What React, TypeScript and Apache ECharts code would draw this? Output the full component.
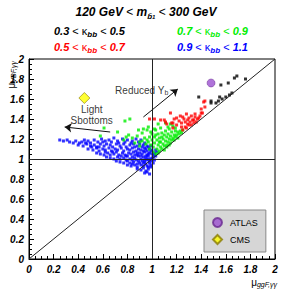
import React, { useEffect, useRef } from "react";
import * as echarts from "echarts";

const F = "Liberation Sans";

const xTicks = { min: 0, max: 2, interval: 0.2 };
const yTicks = { min: 0, max: 2, interval: 0.2 };

// kappa_bb 0.9-1.1 (blue)
const bluePts: number[][] = [
  [0.25,1.19],[0.28,1.18],[0.31,1.19],[0.33,1.17],[0.36,1.16],[0.38,1.18],[0.41,1.16],[0.43,1.17],[0.45,1.19],[0.48,1.18],[0.50,1.16],[0.53,1.19],[0.56,1.17],[0.59,1.20],[0.62,1.18],[0.65,1.19],[0.69,1.21],[0.72,1.18],[0.76,1.20],[0.80,1.19],[0.84,1.18],[0.87,1.20],[0.91,1.19],
  [0.40,1.14],[0.44,1.13],[0.47,1.15],[0.50,1.13],[0.53,1.14],[0.55,1.12],[0.58,1.15],[0.61,1.13],[0.63,1.15],[0.66,1.14],[0.68,1.12],[0.71,1.15],[0.74,1.13],[0.77,1.15],[0.79,1.12],[0.82,1.14],[0.85,1.15],[0.88,1.13],[0.90,1.15],[0.93,1.14],[0.96,1.13],
  [0.48,1.10],[0.52,1.09],[0.55,1.11],[0.57,1.08],[0.60,1.10],[0.62,1.09],[0.65,1.11],[0.67,1.08],[0.70,1.10],[0.72,1.09],[0.75,1.11],[0.77,1.08],[0.80,1.10],[0.82,1.09],[0.84,1.11],[0.87,1.08],[0.89,1.10],[0.91,1.09],[0.94,1.11],[0.96,1.08],[0.98,1.10],[1.00,1.09],
  [0.55,1.06],[0.58,1.05],[0.61,1.04],[0.64,1.06],[0.66,1.04],[0.69,1.05],[0.71,1.07],[0.73,1.04],[0.76,1.06],[0.78,1.04],[0.81,1.06],[0.83,1.05],[0.85,1.07],[0.88,1.04],[0.90,1.06],[0.92,1.05],[0.94,1.07],[0.96,1.04],[0.98,1.06],[1.00,1.05],[1.02,1.06],[1.04,1.07],
  [0.63,1.02],[0.66,1.01],[0.69,1.00],[0.72,1.02],[0.74,1.00],[0.77,1.01],[0.79,1.03],[0.82,1.00],[0.84,1.02],[0.86,1.01],[0.89,1.03],[0.91,1.00],[0.93,1.02],[0.95,1.01],[0.97,1.03],[0.99,1.00],[1.01,1.02],[1.03,1.03],
  [0.71,0.98],[0.74,0.97],[0.77,0.96],[0.80,0.98],[0.82,0.96],[0.85,0.97],[0.87,0.99],[0.90,0.96],[0.92,0.98],[0.94,0.97],[0.96,0.99],[0.98,0.96],[1.00,0.98],[1.02,0.99],
  [0.80,0.94],[0.83,0.93],[0.86,0.94],[0.88,0.92],[0.91,0.94],[0.93,0.93],[0.95,0.95],[0.97,0.92],[0.99,0.94],[1.01,0.96],
  [0.88,0.90],[0.91,0.89],[0.93,0.91],[0.95,0.88],[0.97,0.90],[0.99,0.92],[0.94,0.86],[0.96,0.87],[0.98,0.85],
  [0.86,1.12],[0.92,1.12],[0.95,1.10],[0.97,1.12],[0.99,1.08],[0.93,1.08],[0.88,1.06],[0.95,1.03],[0.97,1.05],[0.91,1.03],[0.86,1.04],[0.80,1.03],[0.75,1.03],[0.68,1.07],[0.62,1.07],[0.57,1.12],[0.51,1.12],[0.46,1.16],[0.89,0.98],[0.84,0.99],[0.79,0.99],[0.96,0.93],[1.00,1.01],[1.02,1.04],[1.03,1.09],[0.99,1.13],[0.94,1.16],[0.89,1.17],[0.83,1.16],[0.78,1.17],[0.73,1.16],[0.67,1.17],[0.60,1.17],[0.98,0.98],[0.93,0.96],[0.88,0.95],[0.84,0.95],[0.97,1.00],[0.94,0.99]
];

// kappa_bb 0.7-0.9 (green)
const greenPts: number[][] = [
  [0.58,1.23],[0.61,1.31],[0.72,1.27],[0.78,1.38],[0.82,1.40],[0.77,1.19],[0.79,1.22],[0.81,1.24],[0.89,1.29],[0.92,1.26],[0.93,1.30],[0.86,1.16],[0.90,1.17],[0.96,1.19],[0.96,1.29],[0.84,1.21],[0.88,1.23],
  [0.90,1.13],[0.92,1.18],[0.94,1.21],[0.95,1.15],[0.97,1.17],[0.98,1.22],[0.99,1.14],[1.00,1.19],[1.00,1.25],[1.01,1.12],[1.02,1.16],[1.02,1.22],[1.03,1.29],[1.04,1.10],[1.04,1.19],[1.05,1.14],[1.05,1.25],[1.06,1.08],[1.06,1.21],[1.07,1.12],[1.07,1.17],[1.07,1.31],[1.08,1.26],[1.08,1.10],[1.09,1.15],[1.09,1.20],[1.10,1.13],[1.10,1.24],[1.11,1.18],[1.11,1.28],[1.12,1.14],[1.12,1.22],[1.13,1.17],[1.13,1.25],[1.14,1.20],[1.14,1.30],[1.15,1.16],[1.15,1.23],[1.16,1.19],[1.16,1.27],[1.17,1.21],[1.17,1.33],[1.18,1.24],[1.18,1.19],[1.19,1.22],[1.19,1.28],[1.20,1.24],[1.21,1.21],[1.21,1.27],[1.22,1.25],[1.23,1.28],[1.24,1.26],[1.25,1.29],[1.11,1.36],[1.15,1.35],[1.05,1.35],[1.02,1.30],[0.97,1.32],[0.99,1.27],[1.03,1.05],[1.05,1.06],[1.08,1.22],[1.13,1.32],[1.19,1.31],[1.10,1.09],[1.12,1.12],[1.14,1.14],[1.06,1.17],[1.03,1.24],[1.01,1.07],[0.98,1.10]
];

// kappa_bb 0.5-0.7 (red)
const redPts: number[][] = [
  [0.98,1.40],[1.02,1.40],[1.07,1.39],[1.10,1.39],[1.11,1.37],[1.12,1.35],[1.15,1.46],[1.16,1.36],[1.17,1.31],[1.17,1.36],[1.18,1.40],[1.20,1.34],[1.20,1.41],[1.23,1.43],[1.24,1.36],[1.24,1.32],[1.25,1.29],[1.25,1.42],[1.27,1.32],[1.27,1.37],[1.28,1.45],[1.28,1.31],[1.29,1.35],[1.30,1.41],[1.30,1.34],[1.31,1.37],[1.32,1.34],[1.33,1.39],[1.34,1.39],[1.34,1.36],[1.35,1.45],[1.35,1.42],[1.36,1.37],[1.37,1.40],[1.38,1.41],[1.39,1.43],[1.40,1.46],[1.40,1.50],[1.41,1.46],[1.42,1.57],[1.43,1.52],[1.43,1.58],[1.22,1.38],[1.26,1.40],[1.32,1.43],[1.29,1.39]
];

// kappa_bb 0.3-0.5 (black)
const blackPts: number[][] = [
  [1.38,1.62],[1.48,1.58],[1.48,1.56],[1.52,1.56],[1.54,1.58],[1.55,1.62],[1.57,1.60],[1.60,1.62],[1.63,1.64],[1.65,1.66],[1.56,1.74],[1.62,1.76],[1.67,1.81],[1.69,1.83],[1.76,1.80]
];

const atlas: number[][] = [[1.48, 1.76]];
const cms: number[][] = [[0.45, 1.61]];

const kappaLegend = [
  { lo: "0.3", hi: "0.5", color: "#000000", x: 54, y: 31 },
  { lo: "0.7", hi: "0.9", color: "#00ee00", x: 177, y: 31 },
  { lo: "0.5", hi: "0.7", color: "#ff0000", x: 54, y: 47 },
  { lo: "0.9", hi: "1.1", color: "#0000ff", x: 177, y: 47 },
];

export default function App() {
  const ref = useRef<HTMLDivElement>(null);
  useEffect(() => {
    if (!ref.current) return;
    const chart = echarts.init(ref.current, null, { renderer: "svg" });
    const axisLabel = { fontSize: 10, fontWeight: "bold", fontStyle: "italic", fontFamily: F, color: "#000", margin: 5 };
    const ptSeries = (name: string, data: number[][], color: string) => ({
      type: "scatter", name, data, symbol: "rect", symbolSize: 3, silent: true,
      itemStyle: { color },
    });
    const richKappa = (color: string) => ({
      n: { fontSize: 11, fontWeight: "bold", fontStyle: "italic", fontFamily: F, fill: color, lineHeight: 14 },
      o: { fontSize: 11, fontFamily: F, fill: color, lineHeight: 14 },
      s: { fontSize: 8, fontWeight: "bold", fontStyle: "italic", fontFamily: F, fill: color, lineHeight: 8, padding: [6, 0, 0, 0], verticalAlign: "bottom" },
    });
    const graphic: any[] = [
      {
        type: "text", x: 146, y: 12,
        style: {
          text: "{t|120 GeV }{o|<}{t| m}{s|b̃}{ss|1}{o| <}{t| 300 GeV}",
          align: "center", verticalAlign: "middle",
          rich: {
            t: { fontSize: 12, fontWeight: "bold", fontStyle: "italic", fontFamily: F, fill: "#000", lineHeight: 16 },
            o: { fontSize: 12, fontFamily: F, fill: "#000", lineHeight: 16 },
            s: { fontSize: 8, fontWeight: "bold", fontStyle: "italic", fontFamily: F, fill: "#000", lineHeight: 8, padding: [7, 0, 0, 0], verticalAlign: "bottom" },
            ss: { fontSize: 6, fontWeight: "bold", fontStyle: "italic", fontFamily: F, fill: "#000", lineHeight: 6, padding: [10, 0, 0, 0], verticalAlign: "bottom" },
          },
        },
      },
      ...kappaLegend.map((k) => ({
        type: "text", x: k.x, y: k.y,
        style: {
          text: `{n|${k.lo}}{o| < κ}{s|bb}{o| < }{n|${k.hi}}`,
          align: "left", verticalAlign: "middle",
          rich: richKappa(k.color),
        },
      })),
      {
        type: "text", x: 11, y: 61, rotation: Math.PI / 2,
        style: {
          text: "{m|μ}{s|VBF,γγ}",
          align: "right", verticalAlign: "middle",
          rich: {
            m: { fontSize: 10, fontFamily: F, fill: "#000", lineHeight: 12 },
            s: { fontSize: 7, fontStyle: "italic", fontFamily: F, fill: "#000", lineHeight: 7, padding: [5, 0, 0, 0], verticalAlign: "bottom" },
          },
        },
      },
      {
        type: "text", x: 277, y: 282,
        style: {
          text: "{m|μ}{s|ggF,γγ}",
          align: "right", verticalAlign: "middle",
          rich: {
            m: { fontSize: 10, fontFamily: F, fill: "#000", lineHeight: 12 },
            s: { fontSize: 7, fontStyle: "italic", fontFamily: F, fill: "#000", lineHeight: 7, padding: [5, 0, 0, 0], verticalAlign: "bottom" },
          },
        },
      },
    ];

    const option: any = {
      animation: false,
      backgroundColor: "#fff",
      grid: { left: 29, top: 59, width: 246, height: 200, show: true, borderColor: "#000", borderWidth: 1, backgroundColor: "transparent" },
      xAxis: {
        type: "value", ...xTicks,
        axisLine: { show: true, lineStyle: { color: "#000", width: 1 } },
        axisTick: { show: true, inside: true, length: 5, lineStyle: { color: "#000" } },
        minorTick: { show: true, splitNumber: 4, length: 3, lineStyle: { color: "#000" } },
        splitLine: { show: false },
        axisLabel,
      },
      yAxis: {
        type: "value", ...yTicks,
        axisLine: { show: true, lineStyle: { color: "#000", width: 1 } },
        axisTick: { show: true, inside: true, length: 5, lineStyle: { color: "#000" } },
        minorTick: { show: true, splitNumber: 4, length: 3, lineStyle: { color: "#000" } },
        splitLine: { show: false },
        axisLabel,
      },
      legend: {
        data: [{ name: "ATLAS", icon: "circle" }, { name: "CMS", icon: "diamond" }],
        orient: "vertical", left: 204, top: 210,
        backgroundColor: "#d6d6d6", borderColor: "#888", borderWidth: 1,
        padding: [7, 8, 7, 8], itemGap: 6, itemWidth: 9, itemHeight: 9,
        selectedMode: false,
        textStyle: { fontSize: 9, fontFamily: F, color: "#000", padding: [0, 0, 0, 3] },
      },
      graphic,
      series: [
        {
          type: "scatter", name: "lines", data: [], silent: true,
          markLine: {
            silent: true, symbol: ["none", "none"], animation: false,
            lineStyle: { color: "#222", width: 1, type: "solid" },
            label: { show: false },
            data: [
              [{ coord: [1, 0] }, { coord: [1, 2] }],
              [{ coord: [0, 1] }, { coord: [2, 1] }],
              [{ coord: [0, 0] }, { coord: [2, 2] }],
            ],
          },
        },
        ptSeries("k09", bluePts, "#0000ff"),
        ptSeries("k07", greenPts, "#00ee00"),
        ptSeries("k05", redPts, "#ff0000"),
        ptSeries("k03", blackPts, "#000000"),
        {
          type: "scatter", name: "arrows", data: [], silent: true,
          markLine: {
            silent: true, symbol: ["none", "arrow"], symbolSize: 7, animation: false,
            lineStyle: { color: "#111", width: 1, type: "solid" },
            label: { show: false },
            data: [
              [{ coord: [0.93, 1.42] }, { coord: [1.21, 1.70] }],
              [{ coord: [0.66, 1.27] }, { coord: [0.29, 1.32] }],
            ],
          },
        },
        {
          type: "scatter", name: "notes", symbolSize: 0, silent: true,
          data: [
            { value: [0.70, 1.69], label: { show: true, position: "right", distance: 0, formatter: "{a|Reduced Y}{b|b}" } },
            { value: [0.51, 1.44], label: { show: true, position: "inside", formatter: "{a|Light}\n{a|Sbottoms}" } },
          ],
          label: {
            rich: {
              a: { fontSize: 10, fontFamily: F, color: "#000", lineHeight: 11 },
              b: { fontSize: 7, fontFamily: F, color: "#000", lineHeight: 7, padding: [5, 0, 0, 0], verticalAlign: "bottom" },
            },
          },
        },
        {
          type: "scatter", name: "ATLAS", data: atlas, symbol: "circle", symbolSize: 8,
          itemStyle: { color: "#9b50d0", borderColor: "#6a2a90", borderWidth: 0.6 },
        },
        {
          type: "scatter", name: "CMS", data: cms, symbol: "diamond", symbolSize: 11,
          itemStyle: { color: "#ffff00", borderColor: "#8a7a00", borderWidth: 0.8 },
        },
      ],
    };
    chart.setOption(option);
    return () => chart.dispose();
  }, []);
  return <div ref={ref} style={{ position: "fixed", left: 0, top: 0, width: 291, height: 291 }} />;
}
